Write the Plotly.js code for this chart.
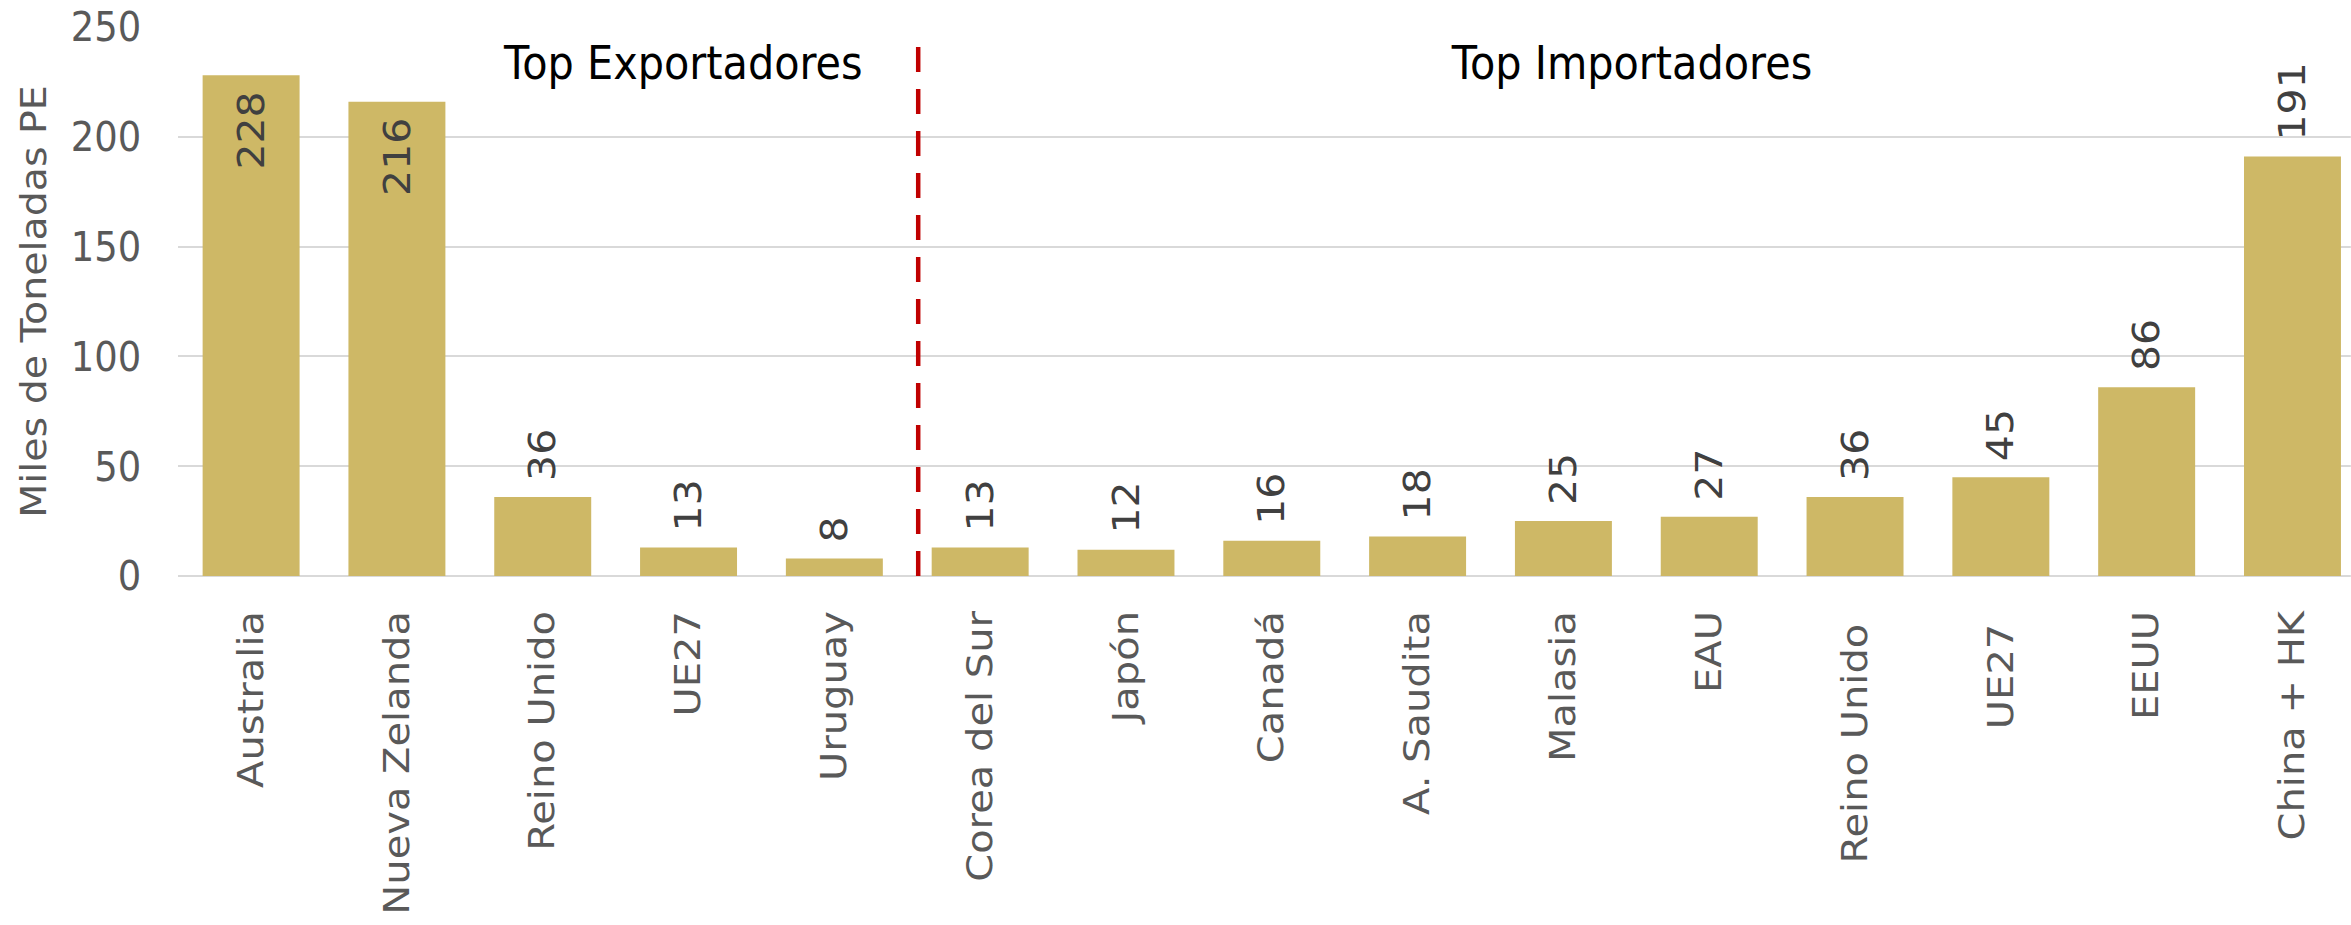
<!DOCTYPE html>
<html>
<head>
<meta charset="utf-8">
<script src="https://cdn.plot.ly/plotly-3.0.1.min.js"></script>
<style>
  html, body { margin: 0; padding: 0; background: #ffffff; overflow: hidden; }
  #wrap { width: 2351px; height: 925px; overflow: hidden; position: relative; }
  #chart { position: absolute; left: 0; top: 0; transform-origin: 0 0; }
</style>
</head>
<body>
<div id="wrap"><div id="chart"></div></div>
<script>
// Categories (x axis)
const categories = [
  "Australia", "Nueva Zelanda", "Reino Unido", "UE27", "Uruguay",
  "Corea del Sur", "Japón", "Canadá", "A. Saudita", "Malasia",
  "EAU", "Reino Unido ", "UE27 ", "EEUU", "China + HK"
];
// Values (Miles de Toneladas PE)
const values = [228, 216, 36, 13, 8, 13, 12, 16, 18, 25, 27, 36, 45, 86, 191];
// Label placement per bar
const labelPositions = ["inside", "inside", "outside", "outside", "outside",
  "outside", "outside", "outside", "outside", "outside",
  "outside", "outside", "outside", "outside", "outside"];
// Group headers
const groupLabels = ["Top Exportadores", "Top Importadores"];
const yTicks = [0, 50, 100, 150, 200, 250];

const barColor = "#CEB866";
const tickColor = "#595959";
const labelColor = "#404040";
const NBSP = "\u00a0";

// The reference chart is horizontally compressed; draw wider and squeeze.
const SQUEEZE = 0.9;
const OUT_W = 2351, OUT_H = 925;
const W = OUT_W / SQUEEZE;
document.getElementById("chart").style.transform = "scaleX(" + SQUEEZE + ")";

// small padding between label and bar edge
const labelTexts = values.map((v, i) =>
  labelPositions[i] === "inside" ? String(v) + NBSP : NBSP + String(v));

const trace = {
  type: "bar",
  x: categories,
  y: values,
  marker: { color: barColor },
  text: labelTexts,
  textposition: labelPositions,
  textangle: -90,
  insidetextanchor: "end",
  constraintext: "none",
  cliponaxis: false,
  textfont: { family: "DejaVu Sans", size: 41, color: labelColor },
  insidetextfont: { family: "DejaVu Sans", size: 41, color: labelColor },
  outsidetextfont: { family: "DejaVu Sans", size: 41, color: labelColor },
  hoverinfo: "x+y"
};

const layout = {
  width: W,
  height: OUT_H,
  margin: { l: 178 / SQUEEZE, r: 0, t: 27, b: 349, pad: 0 },
  paper_bgcolor: "#ffffff",
  plot_bgcolor: "#ffffff",
  showlegend: false,
  bargap: 0.335,
  xaxis: {
    type: "category",
    range: [-0.5, 14.4],
    tickangle: -90,
    tickfont: { family: "DejaVu Sans", size: 40, color: tickColor },
    showgrid: false,
    zeroline: false,
    showline: false,
    ticks: "",
    ticklabelstandoff: 26,
    automargin: false
  },
  yaxis: {
    range: [0, 250],
    tickvals: yTicks,
    ticktext: yTicks.map(String),
    tickfont: { family: "DejaVu Sans", size: 41, color: tickColor },
    showgrid: true,
    gridcolor: "#D9D9D9",
    gridwidth: 2,
    zeroline: true,
    zerolinecolor: "#D9D9D9",
    zerolinewidth: 2,
    showline: false,
    ticks: "",
    ticklabelstandoff: 40,
    automargin: false,
    title: {
      text: "Miles de Toneladas PE",
      font: { family: "DejaVu Sans", size: 39.5, color: tickColor },
      standoff: 14
    }
  },
  shapes: [{
    type: "line",
    xref: "x", yref: "y",
    x0: 4.575, x1: 4.575, y0: 0, y1: 244,
    line: { color: "#C00000", width: 5, dash: "25px,17px" }
  }],
  annotations: [
    {
      xref: "x", yref: "y", x: 2.96, y: 233.6,
      text: groupLabels[0], showarrow: false,
      font: { family: "DejaVu Sans", size: 46, color: "#000000" },
      xanchor: "center", yanchor: "middle"
    },
    {
      xref: "x", yref: "y", x: 9.47, y: 233.6,
      text: groupLabels[1], showarrow: false,
      font: { family: "DejaVu Sans", size: 46, color: "#000000" },
      xanchor: "center", yanchor: "middle"
    }
  ]
};

Plotly.newPlot("chart", [trace], layout, { displayModeBar: false, staticPlot: true });
</script>
</body>
</html>
